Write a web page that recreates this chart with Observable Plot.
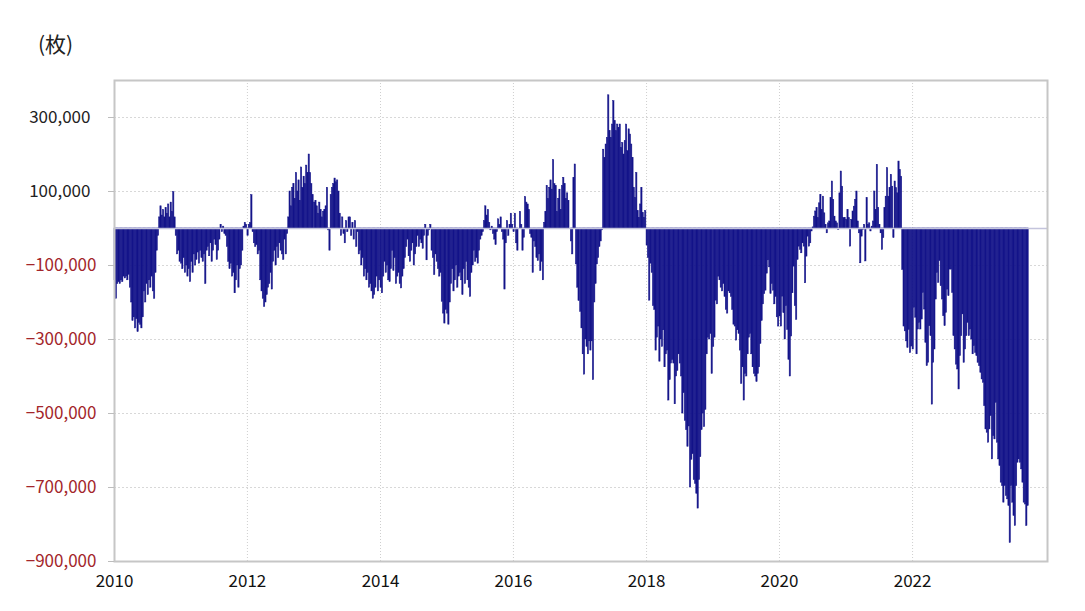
<!DOCTYPE html>
<html><head><meta charset="utf-8">
<script src="https://cdn.jsdelivr.net/npm/d3@7"></script>
<script src="https://cdn.jsdelivr.net/npm/@observablehq/plot@0.6"></script>
<style>
body{margin:0;background:#fff;font-family:"Noto Sans CJK JP","Noto Sans",sans-serif;}
#wrap{position:relative;width:1085px;height:611px;}
#unit{position:absolute;left:38px;top:28px;font-size:21px;color:#222;}
#wrap svg{position:absolute;left:0;top:0;}
</style></head><body>
<div id="wrap"><div id="unit">(枚)</div></div>
<script>
// Weekly net position, in thousands of contracts (枚), one array per year
const UNIT = 1000;
const y2010 = [-140,-190,-150,-145,-150,-140,-145,-130,-135,-130,-140,-125,-160,-200,-250,-240,-270,-245,-280,-255,-260,-270,-240,-170,-200,-150,-180,-140,-160,-130,-170,-190,-120,-60,-20,30,60,35,50,30,55,40,65,30,70,45,98,30,-20,-70,-60,-90];
const y2011 = [-95,-110,-80,-120,-100,-130,-110,-145,-90,-120,-70,-100,-85,-65,-95,-60,-80,-90,-70,-150,-60,-50,-75,-40,-90,-60,-30,-45,-85,-60,-30,10,-10,5,-15,-20,-50,-90,-110,-95,-130,-120,-175,-140,-100,-160,-110,-100,-60,5,15,10];
const y2012 = [-20,10,15,90,-10,-40,-50,-45,-70,-60,-140,-170,-190,-212,-200,-180,-160,-150,-120,-165,-90,-60,-100,-50,-80,-40,-60,-70,-85,-30,-70,-15,30,100,60,110,120,80,150,100,130,75,165,110,140,120,170,150,200,150,120,90];
const y2013 = [70,75,60,40,70,50,30,45,50,60,110,-5,-60,90,110,120,135,125,130,100,40,-20,30,-15,-40,20,-10,30,30,-20,15,-30,20,-50,-10,-70,-60,-100,-80,-130,-110,-140,-120,-160,-150,-170,-190,-180,-160,-130,-170,-140];
const y2014 = [-160,-175,-130,-90,-120,-100,-140,-145,-110,-60,-115,-80,-150,-130,-120,-150,-162,-130,-110,-80,-50,-30,-75,-90,-60,-40,-100,-70,-50,-20,-50,-30,-40,-55,-20,10,-86,-20,-5,10,-60,-80,-126,-70,-90,-110,-130,-120,-198,-230,-257,-220];
const y2015 = [-230,-260,-200,-150,-110,-170,-140,-100,-160,-130,-120,-140,-180,-110,-150,-90,-140,-160,-185,-120,-100,-60,-90,-80,-95,-60,-30,-20,-10,20,60,35,50,15,-5,5,-15,-30,-45,-10,25,10,30,-10,-30,-165,-40,20,-20,10,40,10];
const y2016 = [-10,40,-40,-60,0,45,10,-60,-25,85,70,65,50,-15,-25,-120,-35,-50,-80,-88,-70,-115,-90,-140,15,45,115,80,110,130,105,185,120,115,45,80,105,50,115,137,120,80,95,75,0,-35,-70,137,173,-97,-160,-196];
const y2017 = [-225,-270,-340,-395,-300,-320,-340,-305,-330,-305,-410,-200,-150,-97,-80,-50,-35,-5,213,190,227,245,360,263,245,281,344,290,263,281,272,281,218,231,200,236,281,209,268,254,227,191,110,83,150,47,29,65,110,42,29,47];
const y2018 = [-46,-80,-195,-95,-120,-210,-220,-330,-295,-265,-360,-300,-320,-275,-375,-340,-330,-465,-410,-365,-355,-365,-475,-400,-385,-340,-365,-400,-500,-445,-520,-545,-590,-535,-700,-625,-610,-680,-690,-717,-757,-680,-618,-545,-500,-537,-490,-340,-295,-300,-285,-393];
const y2019 = [-320,-295,-195,-205,-130,-140,-160,-170,-150,-185,-220,-230,-170,-175,-185,-220,-260,-265,-303,-275,-285,-330,-420,-375,-465,-393,-400,-340,-295,-285,-340,-375,-393,-400,-415,-393,-375,-312,-250,-205,-177,-168,-122,-86,-105,-177,-150,-168,-205,-185,-240,-265];
const y2020 = [-238,-265,-184,-229,-300,-210,-274,-355,-400,-292,-175,-103,-210,-247,-85,-49,-58,-67,-40,-49,-148,-76,-22,-49,-40,-8,3,32,46,55,28,68,91,50,86,41,10,-13,14,19,82,127,77,32,19,14,-4,95,154,113,28,28];
const y2021 = [23,50,28,-49,23,46,59,77,100,19,-13,-94,-22,-4,10,-89,82,10,14,-8,5,19,100,50,172,55,10,-13,-58,-26,55,86,163,86,109,145,113,-26,127,109,95,181,158,140,-112,-265,-278,-305,-323,-274,-337,-319];
const y2022 = [-327,-214,-241,-340,-273,-255,-273,-246,-174,-219,-309,-372,-363,-264,-291,-476,-363,-327,-192,-120,-147,-88,-156,-192,-237,-264,-228,-165,-183,-111,-111,-174,-291,-327,-368,-381,-435,-345,-291,-232,-363,-327,-291,-255,-291,-273,-300,-340,-318,-336,-345,-363];
const y2023 = [-372,-390,-408,-417,-480,-543,-552,-579,-543,-507,-624,-561,-570,-471,-579,-624,-642,-687,-696,-741,-696,-723,-732,-750,-850,-696,-741,-777,-804,-696,-633,-624,-633,-651,-687,-741,-746,-804,-750];

const years = [2010,2011,2012,2013,2014,2015,2016,2017,2018,2019,2020,2021,2022,2023];
const series = [y2010,y2011,y2012,y2013,y2014,y2015,y2016,y2017,y2018,y2019,y2020,y2021,y2022,y2023];
const yTicks = [300000,100000,-100000,-300000,-500000,-700000,-900000];
const xTickYears = [2010,2012,2014,2016,2018,2020,2022];

const rows = [];
years.forEach((yr, k) => {
  series[k].forEach((v, i) => {
    const start = d3.utcDay.offset(new Date(Date.UTC(yr,0,1)), 7*i);
    rows.push({start, end: d3.utcDay.offset(start, 7), value: v*UNIT});
  });
});
const xTicks = xTickYears.map(y => new Date(Date.UTC(y,0,1)));
const gridXTicks = xTicks.slice(1);
const fmt = d3.format(",");
const font = '"Noto Sans CJK JP","Noto Sans",sans-serif';
const barColor = "#15158a";

const chart = Plot.plot({
  width: 1085, height: 611,
  marginTop: 80, marginBottom: 50, marginLeft: 114, marginRight: 38,
  style: {fontFamily: font, fontSize: "17px", background: "transparent", color: "#111"},
  x: {type: "utc", domain: [new Date(Date.UTC(2010,0,1)), new Date(Date.UTC(2024,0,12))]},
  y: {domain: [-900000, 400000]},
  marks: [
    Plot.gridY(yTicks, {stroke: "#d8d8d8", strokeOpacity: 1, strokeDasharray: "2,2"}),
    Plot.gridX(gridXTicks, {stroke: "#cfcfcf", strokeOpacity: 1, strokeDasharray: "1,2"}),
    Plot.rectY(rows, {x1: "start", x2: "end", y: "value", fill: barColor, stroke: barColor, strokeWidth: 0.5}),
    Plot.ruleY([0], {stroke: "#c4c4dc", strokeWidth: 1.5}),
    Plot.frame({stroke: "#c6c6c6", strokeWidth: 2}),
    Plot.axisY({ticks: yTicks, tickSize: 6, stroke: "#bdbdbd", tickFormat: () => "", label: null}),
    Plot.text(yTicks.filter(d => d >= 0), {y: d => d, frameAnchor: "left", dx: -24, textAnchor: "end", text: d => fmt(d), fill: "#222", fontSize: 17}),
    Plot.text(yTicks.filter(d => d < 0), {y: d => d, frameAnchor: "left", dx: -18, textAnchor: "end", text: d => fmt(d), fill: "#a3262b", fontSize: 17}),
    Plot.axisX({ticks: xTicks, tickSize: 0, tickPadding: 13, tickFormat: d3.utcFormat("%Y"), fontSize: 17, fill: "#111", label: null})
  ]
});
document.getElementById("wrap").appendChild(chart);
</script>
</body></html>
